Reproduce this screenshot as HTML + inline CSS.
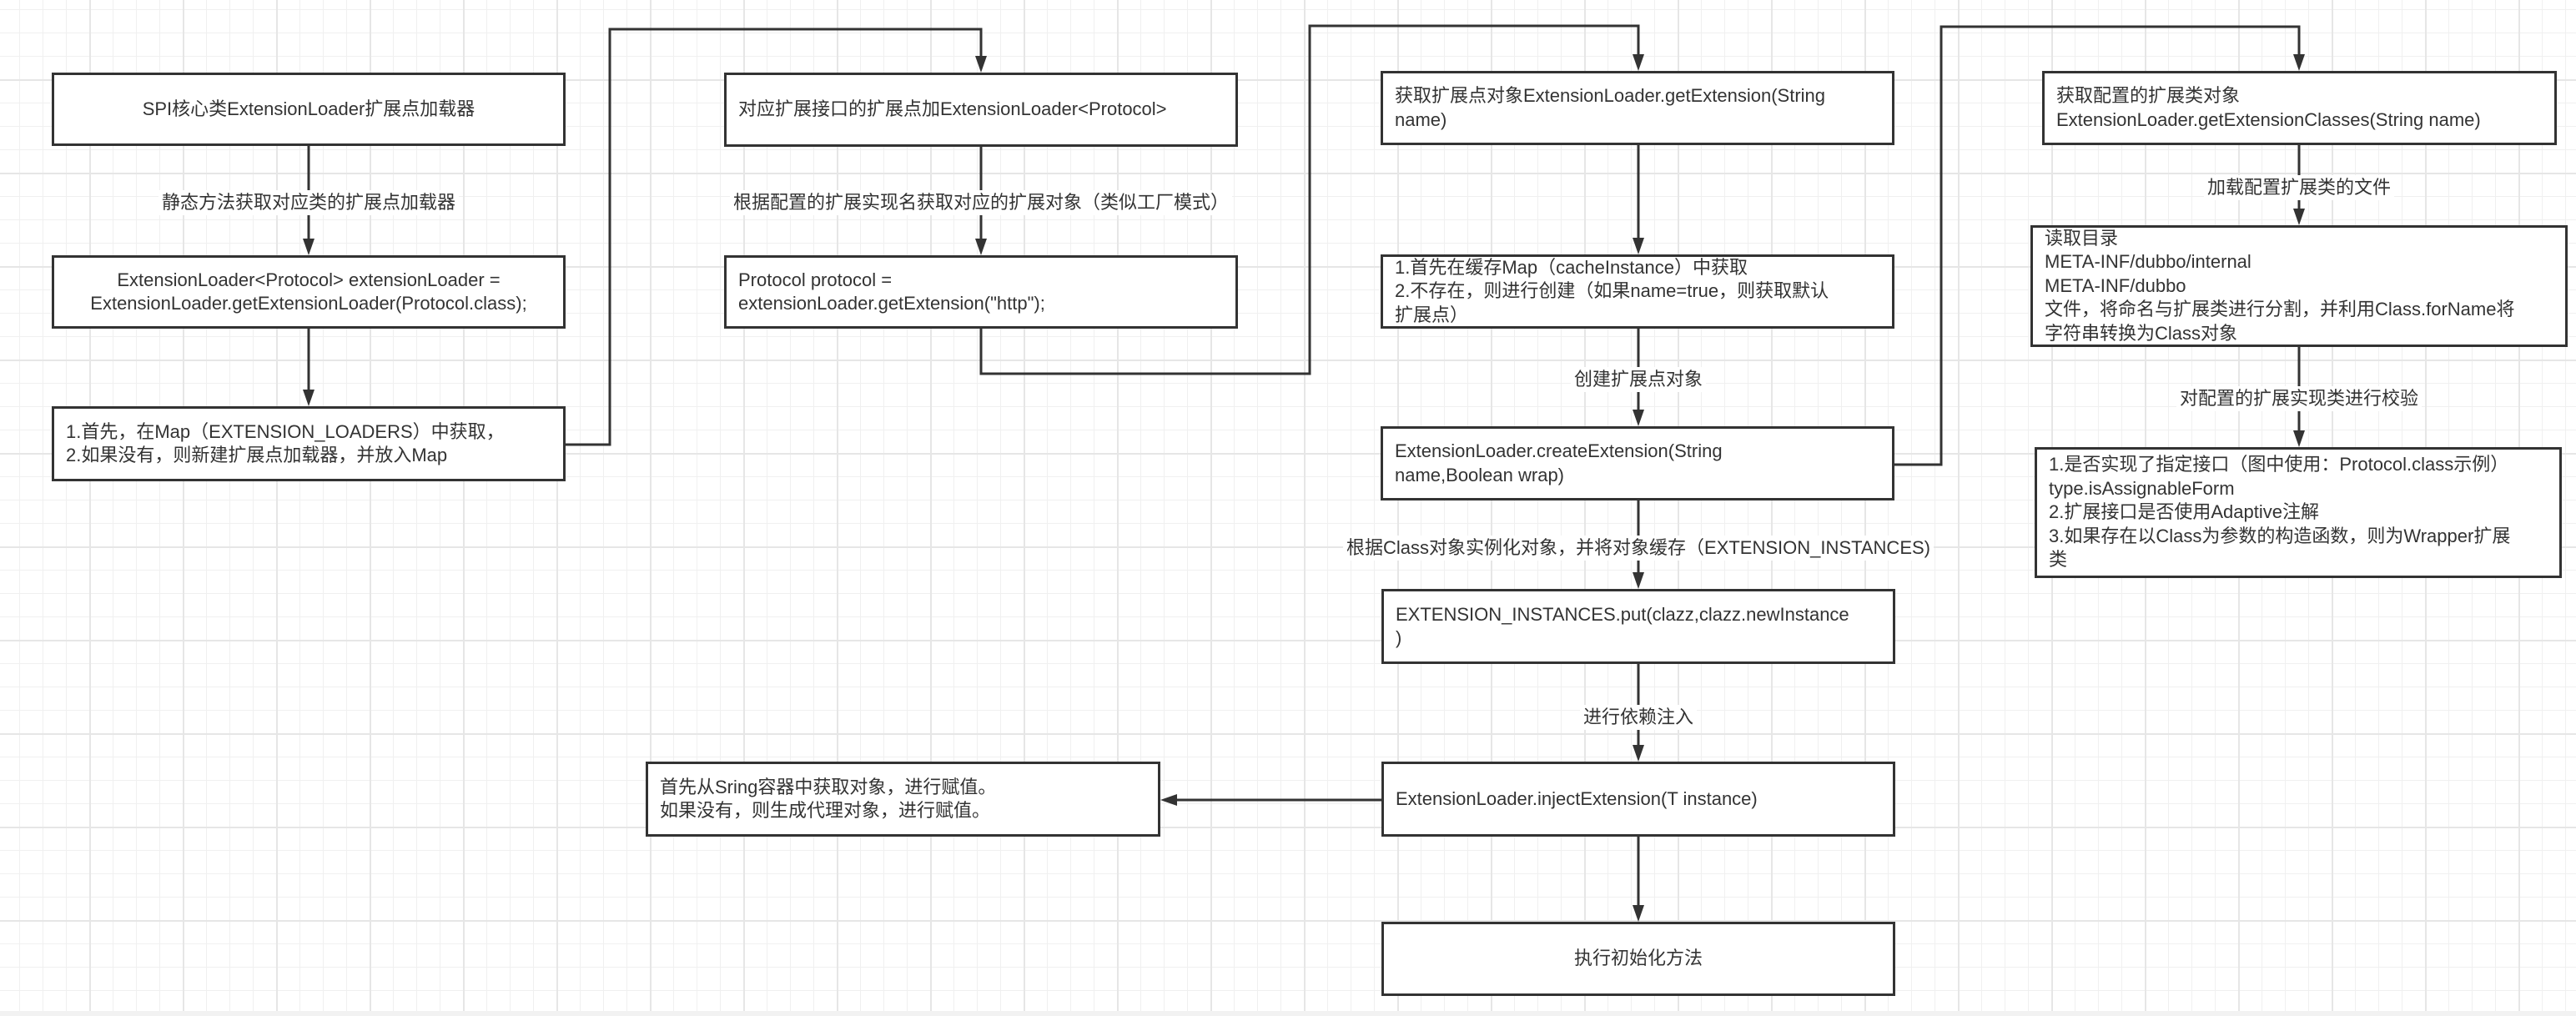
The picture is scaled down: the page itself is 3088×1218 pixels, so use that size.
<!DOCTYPE html>
<html><head><meta charset="utf-8"><style>
html,body{margin:0;padding:0}
body{width:3088px;height:1218px;position:relative;overflow:hidden;background-color:#fff;
background-image:
linear-gradient(to right,#e6e6e6 2px,transparent 2px),
linear-gradient(to bottom,#e6e6e6 2px,transparent 2px),
linear-gradient(to right,#f0f0f0 1px,transparent 1px),
linear-gradient(to bottom,#f0f0f0 1px,transparent 1px);
background-size:112px 112px,112px 112px,28px 28px,28px 28px;
background-position:107px 0,0 95px,23px 0,0 11px;
font-family:"Liberation Sans","Noto Sans CJK SC",sans-serif;color:#333;}
.b{position:absolute;box-sizing:border-box;border:3px solid #333;background:#fff;display:flex;flex-direction:column;justify-content:center;padding:0 14px;font-size:22px;line-height:28.5px;white-space:nowrap}
.c{text-align:center;align-items:center}
.l{position:absolute;font-size:22px;line-height:30px;background:#fff;transform:translateX(-50%);white-space:nowrap;padding:0 4px}
svg{position:absolute;left:0;top:0}
.band{position:absolute;left:0;top:1212px;width:3088px;height:6px;background:#f2f2f2}
</style></head><body>
<svg width="3088" height="1218">
<g fill="none" stroke="#333" stroke-width="3">
<path d="M370 175V290"/>
<path d="M370 394V471"/>
<path d="M678 533H731V35H1176V71"/>
<path d="M1176 176V290"/>
<path d="M1176 394V448H1570V31H1964V69"/>
<path d="M1964 174V289"/>
<path d="M1964 394V495"/>
<path d="M2271 557H2327V32H2756V69"/>
<path d="M2756 174V254"/>
<path d="M2756 416V520"/>
<path d="M1964 600V690"/>
<path d="M1964 796V897"/>
<path d="M1656 959H1407"/>
<path d="M1964 1003V1089"/>
</g>
<g fill="#333">
<polygon points="363,286 377,286 370,306"/>
<polygon points="363,467 377,467 370,487"/>
<polygon points="1169,67 1183,67 1176,87"/>
<polygon points="1169,286 1183,286 1176,306"/>
<polygon points="1957,65 1971,65 1964,85"/>
<polygon points="1957,285 1971,285 1964,305"/>
<polygon points="1957,491 1971,491 1964,511"/>
<polygon points="2749,65 2763,65 2756,85"/>
<polygon points="2749,250 2763,250 2756,270"/>
<polygon points="2749,516 2763,516 2756,536"/>
<polygon points="1957,686 1971,686 1964,706"/>
<polygon points="1957,893 1971,893 1964,913"/>
<polygon points="1411,952 1411,966 1391,959"/>
<polygon points="1957,1085 1971,1085 1964,1105"/>
</g>
</svg>
<div class="band"></div>

<div class="b c" style="left:62px;top:87px;width:616px;height:88px">SPI核心类ExtensionLoader扩展点加载器</div>
<div class="b c" style="left:62px;top:306px;width:616px;height:88px">ExtensionLoader&lt;Protocol&gt; extensionLoader =<br>ExtensionLoader.getExtensionLoader(Protocol.class);</div>
<div class="b" style="left:62px;top:487px;width:616px;height:90px">1.首先，在Map（EXTENSION_LOADERS）中获取，<br>2.如果没有，则新建扩展点加载器，并放入Map</div>

<div class="b" style="left:868px;top:87px;width:616px;height:89px">对应扩展接口的扩展点加ExtensionLoader&lt;Protocol&gt;</div>
<div class="b" style="left:868px;top:306px;width:616px;height:88px">Protocol protocol =<br>extensionLoader.getExtension("http");</div>

<div class="b" style="left:1655px;top:85px;width:616px;height:89px">获取扩展点对象ExtensionLoader.getExtension(String<br>name)</div>
<div class="b" style="left:1655px;top:305px;width:616px;height:89px">1.首先在缓存Map（cacheInstance）中获取<br>2.不存在，则进行创建（如果name=true，则获取默认<br>扩展点）</div>
<div class="b" style="left:1655px;top:511px;width:616px;height:89px">ExtensionLoader.createExtension(String<br>name,Boolean wrap)</div>
<div class="b" style="left:1656px;top:706px;width:616px;height:90px">EXTENSION_INSTANCES.put(clazz,clazz.newInstance<br>)</div>
<div class="b" style="left:1656px;top:913px;width:616px;height:90px">ExtensionLoader.injectExtension(T instance)</div>
<div class="b c" style="left:1656px;top:1105px;width:616px;height:89px">执行初始化方法</div>
<div class="b" style="left:774px;top:913px;width:617px;height:90px">首先从Sring容器中获取对象，进行赋值。<br>如果没有，则生成代理对象，进行赋值。</div>

<div class="b" style="left:2448px;top:85px;width:617px;height:89px">获取配置的扩展类对象<br>ExtensionLoader.getExtensionClasses(String name)</div>
<div class="b" style="left:2434px;top:270px;width:644px;height:146px">读取目录<br>META-INF/dubbo/internal<br>META-INF/dubbo<br>文件，将命名与扩展类进行分割，并利用Class.forName将<br>字符串转换为Class对象</div>
<div class="b" style="left:2439px;top:536px;width:632px;height:157px">1.是否实现了指定接口（图中使用：Protocol.class示例）<br>type.isAssignableForm<br>2.扩展接口是否使用Adaptive注解<br>3.如果存在以Class为参数的构造函数，则为Wrapper扩展<br>类</div>

<div class="l" style="left:370px;top:228px">静态方法获取对应类的扩展点加载器</div>
<div class="l" style="left:1176px;top:228px">根据配置的扩展实现名获取对应的扩展对象（类似工厂模式）</div>
<div class="l" style="left:1964px;top:440px">创建扩展点对象</div>
<div class="l" style="left:2756px;top:210px">加载配置扩展类的文件</div>
<div class="l" style="left:2756px;top:463px">对配置的扩展实现类进行校验</div>
<div class="l" style="left:1964px;top:642px">根据Class对象实例化对象，并将对象缓存（EXTENSION_INSTANCES)</div>
<div class="l" style="left:1964px;top:845px">进行依赖注入</div>
</body></html>
